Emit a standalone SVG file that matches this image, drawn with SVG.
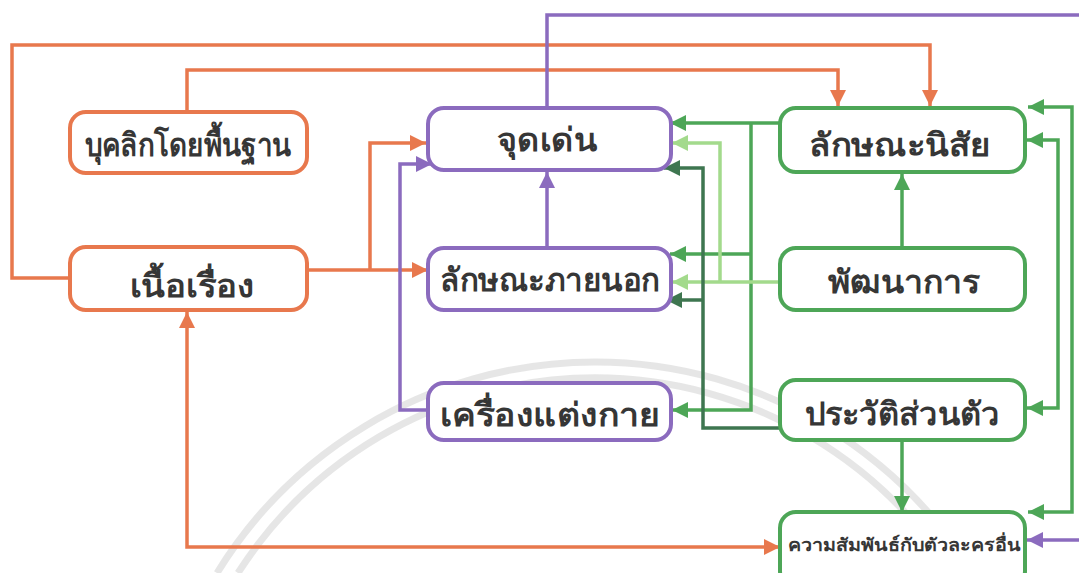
<svg xmlns="http://www.w3.org/2000/svg" width="1079" height="573" viewBox="0 0 1079 573">
<style>
.box{fill:#fff;stroke-width:4}
.or{stroke:#E8784D}.pu{stroke:#8B6BBE}.gr{stroke:#4DA657}
.lbl{font-family:"Noto Sans","DejaVu Sans",sans-serif;font-weight:bold;font-size:32px;fill:#363636;text-anchor:middle}
.sm{font-size:18px}
.c{fill:none;stroke-width:3.5}
.wm{fill:none;stroke:#d6d6d6;stroke-width:7;opacity:0.6}
</style>
<defs>
<marker id="aO" viewBox="0 0 10 10" refX="10" refY="5" markerWidth="16" markerHeight="16" markerUnits="userSpaceOnUse" orient="auto-start-reverse"><path d="M0,0L10,5L0,10z" fill="#E8784D"/></marker>
<marker id="aP" viewBox="0 0 10 10" refX="10" refY="5" markerWidth="16" markerHeight="16" markerUnits="userSpaceOnUse" orient="auto-start-reverse"><path d="M0,0L10,5L0,10z" fill="#8B6BBE"/></marker>
<marker id="aG" viewBox="0 0 10 10" refX="10" refY="5" markerWidth="16" markerHeight="16" markerUnits="userSpaceOnUse" orient="auto-start-reverse"><path d="M0,0L10,5L0,10z" fill="#4DA657"/></marker>
<marker id="aL" viewBox="0 0 10 10" refX="10" refY="5" markerWidth="16" markerHeight="16" markerUnits="userSpaceOnUse" orient="auto-start-reverse"><path d="M0,0L10,5L0,10z" fill="#A3DA8C"/></marker>
<marker id="aD" viewBox="0 0 10 10" refX="10" refY="5" markerWidth="16" markerHeight="16" markerUnits="userSpaceOnUse" orient="auto-start-reverse"><path d="M0,0L10,5L0,10z" fill="#3E7650"/></marker>
</defs>
<rect width="1079" height="573" fill="#fff"/>
<g id="watermark">
<path class="wm" d="M217,573 A444,444 0 0 1 973,573"/>
<path class="wm" d="M238,573 A424,424 0 0 1 952,573"/>
</g>
<g id="connectors">
<path class="c" stroke="#E8784D" d="M70,278H12V45H930V106" marker-end="url(#aO)"/>
<path class="c" stroke="#E8784D" d="M187,112V70H838V106" marker-end="url(#aO)"/>
<path class="c" stroke="#E8784D" d="M307,270H428" marker-end="url(#aO)"/>
<path class="c" stroke="#E8784D" d="M370,270V143H426" marker-end="url(#aO)"/>
<path class="c" stroke="#E8784D" d="M187,312V547H780" marker-start="url(#aO)" marker-end="url(#aO)"/>
<path class="c" stroke="#8B6BBE" d="M547,108V15H1079"/>
<path class="c" stroke="#8B6BBE" d="M547,248V172" marker-end="url(#aP)"/>
<path class="c" stroke="#8B6BBE" d="M428,410H400V164H432" marker-end="url(#aP)"/>
<path class="c" stroke="#8B6BBE" d="M1079,540H1027" marker-end="url(#aP)"/>
<path class="c" stroke="#4DA657" d="M780,123H670" marker-end="url(#aG)"/>
<path class="c" stroke="#4DA657" d="M751,123V410H672" marker-end="url(#aG)"/>
<path class="c" stroke="#4DA657" d="M751,254H670" marker-end="url(#aG)"/>
<path class="c" stroke="#4DA657" d="M902,248V174" marker-end="url(#aG)"/>
<path class="c" stroke="#4DA657" d="M902,442V512" marker-end="url(#aG)"/>
<path class="c" stroke="#4DA657" d="M1028,107H1072V512H1028" marker-start="url(#aG)" marker-end="url(#aG)"/>
<path class="c" stroke="#4DA657" d="M1027,140H1058V408H1027" marker-start="url(#aG)" marker-end="url(#aG)"/>
<path class="c" stroke="#A3DA8C" d="M780,282H672" marker-end="url(#aL)"/>
<path class="c" stroke="#A3DA8C" d="M720,282V143H672" marker-end="url(#aL)"/>
<path class="c" stroke="#3E7650" d="M780,428H703V168H664" marker-end="url(#aD)"/>
<path class="c" stroke="#3E7650" d="M703,300H666" marker-end="url(#aD)"/>
</g>
<g id="n1"><rect class="box or" x="70" y="112" width="237" height="61" rx="16"/><text class="lbl" x="188" y="156" textLength="207" lengthAdjust="spacingAndGlyphs">บุคลิกโดยพื้นฐาน</text></g>
<g id="n2"><rect class="box or" x="70" y="247" width="237" height="63" rx="16"/><text class="lbl" x="192" y="297" textLength="125" lengthAdjust="spacingAndGlyphs">เนื้อเรื่อง</text></g>
<g id="n3"><rect class="box pu" x="428" y="108" width="243" height="62" rx="16"/><text class="lbl" x="547" y="151" textLength="100" lengthAdjust="spacingAndGlyphs">จุดเด่น</text></g>
<g id="n4"><rect class="box pu" x="428" y="248" width="243" height="62" rx="16"/><text class="lbl" x="550" y="291" textLength="220" lengthAdjust="spacingAndGlyphs">ลักษณะภายนอก</text></g>
<g id="n5"><rect class="box pu" x="428" y="383" width="243" height="57" rx="16"/><text class="lbl" x="550" y="426" textLength="220" lengthAdjust="spacingAndGlyphs">เครื่องแต่งกาย</text></g>
<g id="n6"><rect class="box gr" x="780" y="108" width="245" height="64" rx="16"/><text class="lbl" x="900" y="156" textLength="182" lengthAdjust="spacingAndGlyphs">ลักษณะนิสัย</text></g>
<g id="n7"><rect class="box gr" x="780" y="248" width="245" height="62" rx="16"/><text class="lbl" x="904" y="293" textLength="152" lengthAdjust="spacingAndGlyphs">พัฒนาการ</text></g>
<g id="n8"><rect class="box gr" x="780" y="380" width="245" height="60" rx="16"/><text class="lbl" x="902" y="425" textLength="195" lengthAdjust="spacingAndGlyphs">ประวัติส่วนตัว</text></g>
<g id="n9"><rect class="box gr" x="780" y="512" width="245" height="75" rx="16"/><text class="lbl sm" x="904" y="551" textLength="232" lengthAdjust="spacingAndGlyphs">ความสัมพันธ์กับตัวละครอื่น</text></g>
</svg>
